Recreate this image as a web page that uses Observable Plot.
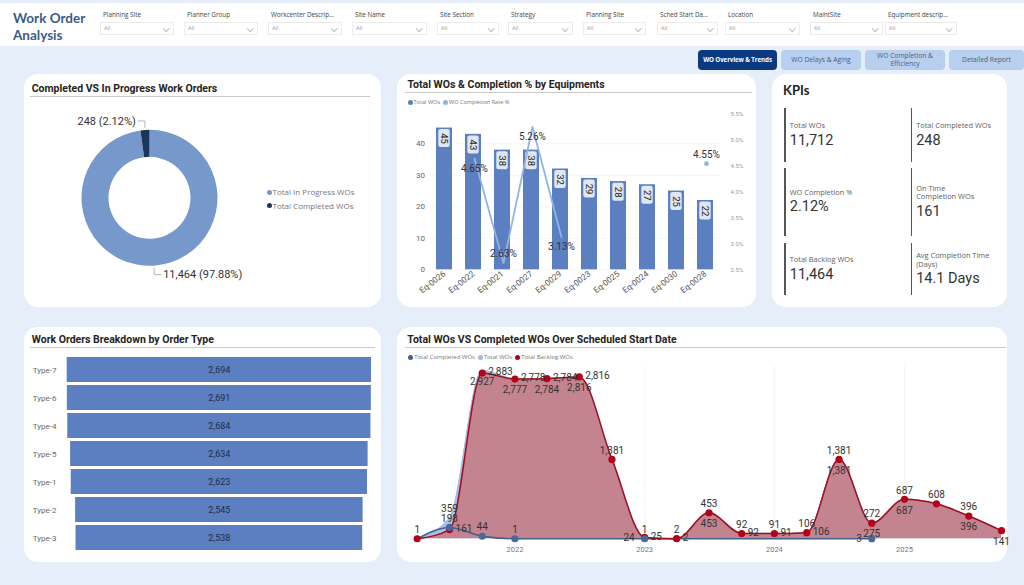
<!DOCTYPE html>
<html>
<head>
<meta charset="utf-8">
<script src="https://cdn.jsdelivr.net/npm/d3@7"></script>
<script src="https://cdn.jsdelivr.net/npm/@observablehq/plot@0.6"></script>
<style>
  html, body { margin: 0; padding: 0; }
  body { background: #e5eef9; font-family: "Open Sans", sans-serif; }
  #page { position: relative; width: 1024px; height: 585px; overflow: hidden; background: #e5eef9; }
</style>
</head>
<body>
<div id="page"></div>
<script>
// ---------- data ----------
const filterLabels = ["Planning Site", "Planner Group", "Workcenter Descrip…", "Site Name", "Site Section",
  "Strategy", "Planning Site", "Sched Start Da…", "Location", "MaintSite", "Equipment descrip…"];
const navButtons = ["WO Overview & Trends", "WO Delays & Aging", "WO Completion & Efficiency", "Detailed Report"];

const statusLabels = ["Total In Progress WOs", "Total Completed WOs"];
const statusValues = [11464, 248];

const equipments = ["Eq-0026", "Eq-0022", "Eq-0021", "Eq-0027", "Eq-0029", "Eq-0023", "Eq-0025", "Eq-0024", "Eq-0030", "Eq-0028"];
const equipmentTotals = [45, 43, 38, 38, 32, 29, 28, 27, 25, 22];
const equipmentCompletionPct = [null, 4.65, 2.63, 5.26, 3.13, null, null, null, null, 4.55];
const pctTicks = [2.5, 3.0, 3.5, 4.0, 4.5, 5.0, 5.5];
const countTicks = [0, 10, 20, 30, 40];

const kpiLabels = ["Total WOs", "Total Completed WOs", "WO Completion %", "On Time\nCompletion WOs", "Total Backlog WOs", "Avg Completion Time\n(Days)"];
const kpiValues = [11712, 248, 2.12, 161, 11464, 14.1];
const kpiFormats = [",", ",", "pct", ",", ",", "days"];

const orderTypes = ["Type-7", "Type-6", "Type-4", "Type-5", "Type-1", "Type-2", "Type-3"];
const orderTypeCounts = [2694, 2691, 2684, 2634, 2623, 2545, 2538];

const quarterStarts = ["2021-04-01", "2021-07-01", "2021-10-01", "2022-01-01", "2022-04-01", "2022-07-01", "2022-10-01",
  "2023-01-01", "2023-04-01", "2023-07-01", "2023-10-01", "2024-01-01", "2024-04-01", "2024-07-01", "2024-10-01",
  "2025-01-01", "2025-04-01", "2025-07-01", "2025-10-01"];
const totalWOs     = [1, 359, 2927, 2778, 2784, 2816, 1381, 25, 2, 453, 92, 91, 106, 1381, 275, 687, 608, 396, 141];
const completedWOs = [0, 198, 44, 1, 0, 0, 0, 1, 0, 0, 0, 0, 0, 0, 3, null, null, null, null];
const backlogWOs   = [1, 161, 2883, 2777, 2784, 2816, 1381, 24, 2, 453, 92, 91, 106, 1381, 272, 687, 608, 396, 141];
const yearTickLabels = [2022, 2023, 2024, 2025];

// where each value label sits next to its point: a above, b below, r right, l left, "" none
const totalLabelAt     = ["a", "a", "b", "r", "r", "r", "a", "r", "a", "a", "a", "a", "a", "a", "b", "a", "a", "a", "b"];
const backlogLabelAt   = ["", "r", "r", "b", "b", "b", "", "l", "r", "b", "r", "r", "r", "b", "a", "b", "", "b", ""];
const completedLabelAt = ["", "a", "a", "a", "", "", "", "a", "", "", "", "", "", "", "l", "", "", "", ""];

// ---------- colours ----------
const C = {
  title: "#3b5a8a", ink: "#252423", sub: "#605e5c",
  bar: "#5b7fc0", pctLine: "#93b4e2", inProgress: "#7698cb", completed: "#1e3559",
  totalArea: "#a9c3e8", totalLine: "#9ebbe5", backlogArea: "#c4848f", backlogLine: "#a00f22",
  backlogDot: "#b3001b", completedLine: "#41608f"
};
const fmt = d3.format(",");

// ---------- page helpers ----------
const page = document.getElementById("page");
function box(left, top, width, height, style = {}, text) {
  const el = document.createElement("div");
  el.style.position = "absolute";
  el.style.left = left + "px";
  el.style.top = top + "px";
  if (width != null) el.style.width = width + "px";
  if (height != null) el.style.height = height + "px";
  Object.assign(el.style, style);
  if (text != null) el.textContent = text;
  page.appendChild(el);
  return el;
}
function mount(svg, left, top) {
  Object.assign(svg.style, {position: "absolute", left: left + "px", top: top + "px", background: "transparent", overflow: "visible"});
  page.appendChild(svg);
}
function textAt(left, centerY, text, size, style = {}) {
  const lh = Math.round(size * 1.3);
  return box(left, centerY - lh / 2, null, null, Object.assign({fontSize: size + "px", lineHeight: lh + "px", whiteSpace: "nowrap"}, style), text);
}
function cardTitle(left, centerY, text, lineY, x1, x2) {
  textAt(left, centerY, text, 10.5, {fontFamily: "Roboto", fontWeight: 700, color: C.ink});
  box(x1, lineY, x2 - x1, 1, {background: "#c9c9c9"});
}
// a row of legend swatches, each placed after the previous label
function legendRow(x, centerY, items, size) {
  let cx = x;
  for (const [color, text] of items) {
    box(cx - 2.5, centerY - 2.5, 5, 5, {borderRadius: "50%", background: color});
    const t = textAt(cx + 3.5, centerY, text, size, {color: "#777"});
    cx += 3.5 + t.offsetWidth + 5;
  }
}

// ---------- header ----------
box(0, 3, 1024, 43, {background: "#fff"});
textAt(13, 18, "Work Order", 13.5, {fontFamily: "Lato", fontWeight: 700, color: C.title});
textAt(13, 35, "Analysis", 13.5, {fontFamily: "Lato", fontWeight: 700, color: C.title});

const filterX = [100, 184, 268, 352, 437, 508, 583, 657, 725, 810, 885];
const filterW = [74, 74, 74, 75, 62, 65, 63, 61, 75, 73, 72];
filterLabels.forEach((label, i) => {
  textAt(filterX[i] + 3, 15, label, 6.3, {color: "#444"});
  box(filterX[i], 21.5, filterW[i], 13, {background: "#fff", border: "1px solid #ececec", boxSizing: "border-box"});
  textAt(filterX[i] + 4, 28.3, "All", 5.6, {color: "#a0a0a0"});
  box(filterX[i] + filterW[i] - 10, 25.5, 3.5, 3.5, {borderRight: "1px solid #b8b8b8", borderBottom: "1px solid #b8b8b8", transform: "rotate(45deg)"});
});

// page navigation buttons
const navX = [698, 781, 865, 949], navW = [79, 80, 80, 75];
navButtons.forEach((label, i) => {
  const active = i === 0;
  box(navX[i], 50, navW[i], 19.5, {
    background: active ? "#0b3a82" : "#b8cfef", color: active ? "#fff" : "#4b5e7c", borderRadius: "4px",
    display: "flex", alignItems: "center", justifyContent: "center", textAlign: "center",
    fontSize: active ? "6.2px" : "6.7px", lineHeight: "8px", fontWeight: active ? 700 : 400,
    padding: active ? "0 1px" : "0 6px", boxSizing: "border-box", whiteSpace: active ? "nowrap" : "normal",
    letterSpacing: active ? "-0.1px" : "0"
  }, label);
});

// ---------- cards ----------
const cardStyle = {background: "#fff", borderRadius: "14px"};
box(24, 74, 357, 233, cardStyle);
box(397, 74, 359, 233, cardStyle);
box(772, 74, 235, 233, cardStyle);
box(24, 327, 357, 235, cardStyle);
box(397, 327, 610, 235, cardStyle);

cardTitle(31.7, 89, "Completed VS In Progress Work Orders", 96, 30, 370);
cardTitle(407.5, 84.5, "Total WOs & Completion % by Equipments", 92, 405, 752);
cardTitle(31.7, 339.5, "Work Orders Breakdown by Order Type", 347.3, 30, 375);
cardTitle(407.3, 339.5, "Total WOs VS Completed WOs Over Scheduled Start Date", 347, 405, 1006);

// ---------- donut: completed vs in progress ----------
const statusRows = statusLabels.map((label, i) => ({label, value: statusValues[i]}));
const statusSum = d3.sum(statusValues);
const innerR = 41, outerR = 68;
const donut = Plot.plot({
  width: 357, height: 205, marginLeft: 0, marginRight: 106, marginTop: 0, marginBottom: 5.4,
  color: {domain: statusLabels, range: [C.inProgress, C.completed]},
  style: {fontFamily: "Roboto"},
  marks: [
    Plot.dot(statusRows, {frameAnchor: "middle", fill: "label", r: 0}),
    (index, scales, values, dims) => {
      const cx = (dims.marginLeft + dims.width - dims.marginRight) / 2;
      const cy = (dims.marginTop + dims.height - dims.marginBottom) / 2;
      const g = d3.create("svg:g").attr("transform", `translate(${cx},${cy})`);
      const arcs = d3.pie().sort(null).value(d => d.value)(statusRows);
      const arc = d3.arc().innerRadius(innerR).outerRadius(outerR);
      g.selectAll("path").data(arcs).join("path").attr("d", arc).attr("fill", d => scales.color(d.data.label));
      for (const a of arcs) {
        const mid = (a.startAngle + a.endAngle) / 2;
        const sx = Math.sin(mid), sy = -Math.cos(mid);
        const p0 = [sx * (outerR + 2), sy * (outerR + 2)];
        const p1 = [p0[0], p0[1] + Math.sign(sy) * 7];
        const p2 = [p1[0] + Math.sign(sx) * 7, p1[1]];
        g.append("polyline").attr("points", [p0, p1, p2].map(p => p.join(",")).join(" "))
          .attr("fill", "none").attr("stroke", "#b5b5b5").attr("stroke-width", 1);
        g.append("text").attr("x", p2[0] + Math.sign(sx) * 2).attr("y", p2[1]).attr("dy", "0.35em")
          .attr("text-anchor", sx < 0 ? "end" : "start").attr("font-size", 11).attr("fill", "#333")
          .text(`${fmt(a.data.value)} (${(a.data.value / statusSum * 100).toFixed(2)}%)`);
      }
      return g.node();
    }
  ]
});
mount(donut, 24, 98);
legendRow(269, 192, [[C.inProgress, statusLabels[0]]], 8);
legendRow(269, 205.5, [[C.completed, statusLabels[1]]], 8);

// ---------- equipment bars + completion rate ----------
const eqData = equipments.map((eq, i) => ({eq, total: equipmentTotals[i], pct: equipmentCompletionPct[i]}));
const eqFrame = {width: 359, height: 211, marginLeft: 32.45, marginRight: 35.45, marginTop: 18, marginBottom: 37.7};
const eqX = {domain: equipments, paddingInner: 0.44, paddingOuter: 0.22, axis: null};
const barsPlot = Plot.plot({
  ...eqFrame,
  x: eqX,
  y: {domain: [0, 49.3], axis: null},
  style: {fontFamily: "Roboto"},
  marks: [
    Plot.gridY(countTicks, {stroke: "#000", strokeOpacity: 0.04}),
    Plot.barY(eqData, {x: "eq", y: "total", fill: C.bar}),
    Plot.barY(eqData, {x: "eq", y1: d => d.total - 6.2, y2: d => d.total - 0.5, insetLeft: 2.3, insetRight: 2.3, fill: "#dfe7f3", rx: 2}),
    Plot.text(eqData, {x: "eq", y: d => d.total - 3.35, text: d => String(d.total), rotate: 90, fontSize: 9.5, fill: "#222"}),
    Plot.axisY(countTicks, {label: null, tickSize: 0, tickPadding: 5, fontSize: 8, fill: "#666"}),
    Plot.axisX({label: null, tickSize: 0, tickPadding: 3, tickRotate: -38, fontSize: 8.3, fill: "#555"})
  ]
});
mount(barsPlot, 397, 96);

const pctDefined = eqData.map(d => d.pct != null);
const isolated = eqData.filter((d, i) => pctDefined[i] && !pctDefined[i - 1] && !pctDefined[i + 1]);
const pctBelow = new Set(["Eq-0022", "Eq-0027", "Eq-0029"]);
const pctLabel = d => d.pct.toFixed(2) + "%";
const pctPlot = Plot.plot({
  ...eqFrame,
  x: eqX,
  y: {domain: [2.5, 5.5], axis: null},
  style: {fontFamily: "Roboto"},
  marks: [
    Plot.lineY(eqData, {x: "eq", y: "pct", stroke: C.pctLine, strokeWidth: 1.8}),
    Plot.dot(isolated, {x: "eq", y: "pct", r: 2.4, fill: C.pctLine}),
    Plot.text(eqData.filter(d => d.pct != null && pctBelow.has(d.eq)), {x: "eq", y: "pct", text: pctLabel, dy: 10, fontSize: 10, fill: "#333"}),
    Plot.text(eqData.filter(d => d.pct != null && !pctBelow.has(d.eq)), {x: "eq", y: "pct", text: pctLabel, dy: -9, fontSize: 10, fill: "#333"}),
    Plot.axisY(pctTicks, {anchor: "right", label: null, tickSize: 0, tickPadding: 9.5, fontSize: 6, fill: "#9a9a9a", tickFormat: d => d.toFixed(1) + "%"})
  ]
});
mount(pctPlot, 397, 96);
legendRow(410, 102.7, [[C.bar, "Total WOs"], [C.pctLine, "WO Completion Rate %"]], 5.6);

// ---------- KPI card ----------
textAt(783, 90.5, "KPIs", 13, {fontFamily: "Lato", fontWeight: 700, color: "#222"});
const kpiColX = [784.3, 910.7];
const kpiRowY = [[108, 162], [167.7, 235.7], [243, 295]];
kpiLabels.forEach((label, i) => {
  const col = i % 2, row = Math.floor(i / 2);
  const [y0, y1] = kpiRowY[row];
  box(kpiColX[col], y0, 1.3, y1 - y0, {background: "#555"});
  const cell = box(kpiColX[col] + 5.5, y0, 88, y1 - y0, {display: "flex", flexDirection: "column", justifyContent: "center"});
  const l = document.createElement("div");
  Object.assign(l.style, {fontSize: "7.4px", lineHeight: "8.6px", color: C.sub, whiteSpace: "pre-line"});
  l.textContent = label;
  const v = document.createElement("div");
  const f = kpiFormats[i];
  const value = kpiValues[i];
  v.textContent = f === "pct" ? value.toFixed(2) + "%" : f === "days" ? value.toFixed(1) + " Days" : fmt(value);
  Object.assign(v.style, {fontFamily: "Roboto", fontWeight: 400, fontSize: "14.5px", lineHeight: "16px", color: "#333", marginTop: "3px", whiteSpace: "nowrap"});
  cell.appendChild(l);
  cell.appendChild(v);
});

// ---------- order type funnel ----------
const typeRows = orderTypes.map((type, i) => ({type, count: orderTypeCounts[i]}));
const halfMax = d3.max(orderTypeCounts) / 2;
const funnel = Plot.plot({
  width: 357, height: 210, marginLeft: 42.7, marginRight: 10, marginTop: 4, marginBottom: 7.3,
  x: {domain: [-halfMax, halfMax], axis: null},
  y: {domain: orderTypes, paddingInner: 0.125, paddingOuter: 0, axis: null},
  style: {fontFamily: "Roboto"},
  marks: [
    Plot.barX(typeRows, {y: "type", x1: d => -d.count / 2, x2: d => d.count / 2, fill: C.bar}),
    Plot.text(typeRows, {y: "type", x: 0, text: d => fmt(d.count), fontSize: 9, fill: "#1f2d44"}),
    Plot.text(typeRows, {y: "type", text: "type", frameAnchor: "left", textAnchor: "start", dx: -34.4, fontSize: 8, fill: "#6a6a6a"})
  ]
});
mount(funnel, 24, 350);

// ---------- totals / completed / backlog over time ----------
const dates = quarterStarts.map(s => new Date(s + "T00:00:00Z"));
const trend = dates.map((date, i) => ({date, total: totalWOs[i], completed: completedWOs[i], backlog: backlogWOs[i]}));
const yearTicks = yearTickLabels.map(y => new Date(Date.UTC(y, 0, 1)));
const trendLabels = [];
[["total", totalLabelAt], ["backlog", backlogLabelAt], ["completed", completedLabelAt]].forEach(([key, at]) => {
  trend.forEach((d, i) => { if (at[i] && d[key] != null) trendLabels.push({date: d.date, value: d[key], at: at[i]}); });
});
const labelOffsets = {a: {dy: -9}, b: {dy: 11}, r: {dx: 6, dy: -1, textAnchor: "start"}, l: {dx: -10, textAnchor: "end"}};
const trendPlot = Plot.plot({
  width: 611, height: 211, marginLeft: 19.7, marginRight: 7, marginTop: 15.8, marginBottom: 22.7,
  x: {type: "utc", domain: [dates[0], dates[dates.length - 1]], axis: null},
  y: {domain: [0, 3000], axis: null},
  style: {fontFamily: "Roboto"},
  marks: [
    Plot.ruleX(yearTicks, {stroke: "#000", strokeOpacity: 0.05}),
    Plot.areaY(trend, {x: "date", y: "total", fill: C.totalArea, curve: "monotone-x"}),
    Plot.lineY(trend, {x: "date", y: "total", stroke: C.totalLine, strokeWidth: 1.5, curve: "monotone-x"}),
    Plot.areaY(trend, {x: "date", y: "backlog", fill: C.backlogArea, curve: "monotone-x"}),
    Plot.lineY(trend.filter(d => d.completed != null), {x: "date", y: "completed", stroke: C.completedLine, strokeWidth: 1.5, curve: "monotone-x"}),
    Plot.lineY(trend, {x: "date", y: "backlog", stroke: C.backlogLine, strokeWidth: 1.5, curve: "monotone-x"}),
    Plot.dot(trend, {x: "date", y: "backlog", r: 3.6, fill: C.backlogDot}),
    Plot.dot(trend.filter(d => d.completed > 0), {x: "date", y: "completed", r: 3.6, fill: "#4a6898"}),
    ...Object.entries(labelOffsets).map(([at, off]) =>
      Plot.text(trendLabels.filter(l => l.at === at), {x: "date", y: "value", text: d => fmt(d.value), fontSize: 10, fill: "#333", ...off})),
    Plot.axisX(yearTicks, {label: null, tickFormat: d3.utcFormat("%Y"), tickSize: 0, tickPadding: 8, fontSize: 7.5, fill: "#777"})
  ]
});
mount(trendPlot, 397, 350);
legendRow(410.7, 357.3, [["#44618f", "Total Completed WOs"], [C.totalLine, "Total WOs"], [C.backlogDot, "Total Backlog WOs"]], 6);
</script>
</body>
</html>
